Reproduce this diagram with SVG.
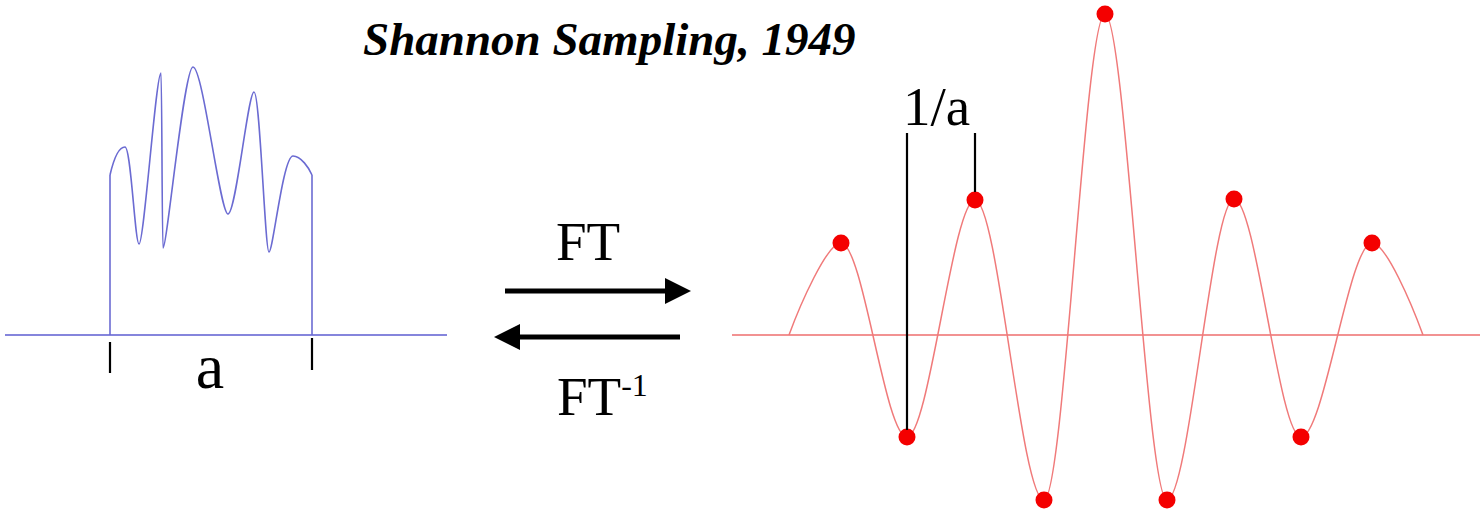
<svg xmlns="http://www.w3.org/2000/svg" width="1480" height="520" viewBox="0 0 1480 520">
  <style>
    .title { font-size: 47px; font-weight: bold; font-style: italic; }
    .lbl { font-size: 55px; }
    .blue { fill: none; stroke: #6b6bd2; stroke-width: 1.6; stroke-linejoin: round; }
    .blueAxis { stroke: #8585dc; stroke-width: 2; }
    .red { fill: none; stroke: #f07a7a; stroke-width: 1.5; stroke-linejoin: round; }
    .redAxis { stroke: #f29292; stroke-width: 2; }
    .tick { stroke: #000; stroke-width: 2.2; }
    .arrow { stroke: #000; stroke-width: 5; }
    .dot { fill: #f40000; }
  </style>
  <rect width="1480" height="520" fill="#fff"/>

  <g id="title">
    <text class="title" style="font-family: 'Liberation Serif', serif" fill="#000" x="363" y="55">Shannon Sampling, 1949</text>
  </g>

  <g id="signal">
    <line class="blueAxis" x1="5" y1="335" x2="447" y2="335"/>
    <line class="blue" x1="110" y1="175" x2="110" y2="335"/>
    <line class="blue" x1="312" y1="175" x2="312" y2="335"/>
    <path class="blue" d="M110,175 C113,162 118,147 125,147 C131,147 135,244 139,244 C144,244 156,73 161,73 C162,73 162,248 163,248 C167,248 184,67 193,67 C203,67 220,214 228,214 C236,214 248,92 254,92 C260,92 265,252 269,252 C273,252 283,156 293,156 C301,156 309,168 312,175"/>
    <line class="tick" x1="110" y1="342" x2="110" y2="373"/>
    <line class="tick" x1="312" y1="338" x2="312" y2="370"/>
    <text style="font-family: 'Liberation Serif', serif" fill="#000" x="210" y="388" font-size="64" text-anchor="middle">a</text>
  </g>

  <g id="connectors">
    <line class="arrow" x1="505" y1="291" x2="667" y2="291"/>
    <polygon points="665,278 691,291 665,304" fill="#000"/>
    <line class="arrow" x1="680" y1="337" x2="518" y2="337"/>
    <polygon points="520,324 494,337 520,350" fill="#000"/>
    <text class="lbl" style="font-family: 'Liberation Serif', serif" fill="#000" x="556" y="260">FT</text>
    <text class="lbl" style="font-family: 'Liberation Serif', serif" fill="#000" x="557" y="415">FT<tspan font-size="32" dy="-19">-1</tspan></text>
  </g>

  <g id="spectrum">
    <line class="redAxis" x1="732" y1="335" x2="1480" y2="335"/>
    <path class="red" d="M789,335 C800,305 827,243 841,243 C863,243 885,437 907,437 C929,437 953,200 975,200 C998,200 1021,500 1044,500 C1064,500 1085,14 1105,14 C1125,14 1147,500 1167,500 C1189,500 1212,199 1234,199 C1256,199 1279,437 1301,437 C1324,437 1349,243 1372,243 C1386,243 1412,305 1423,335"/>
    <circle class="dot" cx="841" cy="243" r="8.5"/>
    <circle class="dot" cx="907" cy="437" r="8.5"/>
    <circle class="dot" cx="975" cy="200" r="8.5"/>
    <circle class="dot" cx="1044" cy="500" r="8.5"/>
    <circle class="dot" cx="1105" cy="14" r="8.5"/>
    <circle class="dot" cx="1167" cy="500" r="8.5"/>
    <circle class="dot" cx="1234" cy="199" r="8.5"/>
    <circle class="dot" cx="1301" cy="437" r="8.5"/>
    <circle class="dot" cx="1372" cy="243" r="8.5"/>
    <line class="tick" x1="907" y1="133" x2="907" y2="430"/>
    <line class="tick" x1="975" y1="133" x2="975" y2="192"/>
    <text class="lbl" style="font-family: 'Liberation Serif', serif" fill="#000" x="903" y="125">1/a</text>
  </g>
</svg>
